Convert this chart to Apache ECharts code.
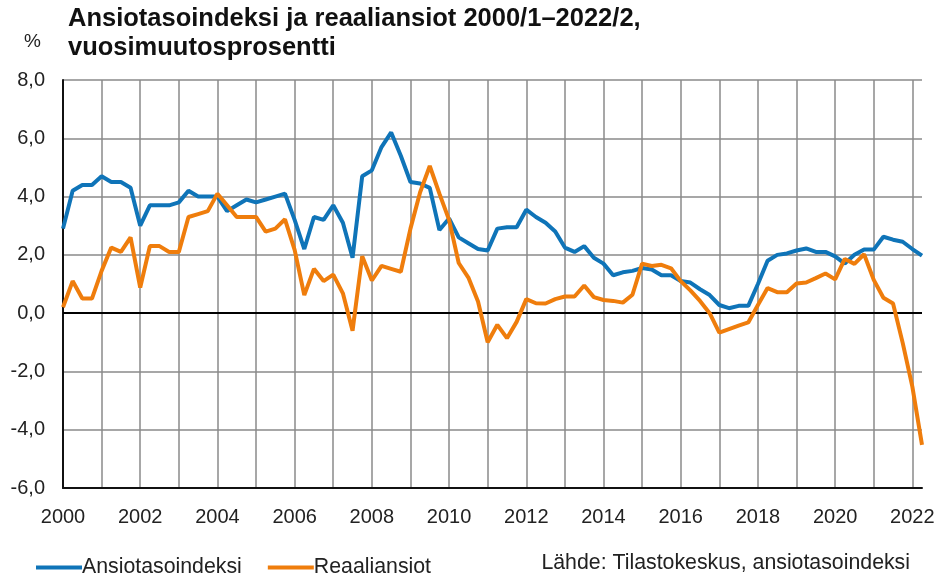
<!DOCTYPE html>
<html>
<head>
<meta charset="utf-8">
<script src="https://cdn.jsdelivr.net/npm/echarts@6/dist/echarts.min.js"></script>
<style>
  html, body { margin: 0; padding: 0; background: #fff; }
  #chart { width: 940px; height: 579px; }
</style>
</head>
<body>
<div id="chart"></div>
<script>
// Quarterly observations 2000/1 – 2022/2, year-on-year change in %
const years = [];
for (let y = 2000; y <= 2022; y++) years.push(y);
const quarters = [];
years.forEach(y => { for (let q = 1; q <= 4; q++) quarters.push(y + '/' + q); });
const categories = quarters.slice(0, 90);

const ansiotasoindeksi = [
  2.9, 4.2, 4.4, 4.4, 4.7, 4.5, 4.5, 4.3,
  3.0, 3.7, 3.7, 3.7, 3.8, 4.2, 4.0, 4.0,
  4.0, 3.5, 3.7, 3.9, 3.8, 3.9, 4.0, 4.1,
  3.2, 2.2, 3.3, 3.2, 3.7, 3.1, 1.9, 4.7,
  4.9, 5.7, 6.2, 5.4, 4.5, 4.45, 4.3, 2.85,
  3.25, 2.6, 2.4, 2.2, 2.15, 2.9, 2.95, 2.95,
  3.55, 3.3, 3.1, 2.8, 2.25, 2.1, 2.3, 1.9,
  1.7, 1.3, 1.4, 1.45, 1.55, 1.5, 1.3, 1.3,
  1.1, 1.05, 0.82, 0.62, 0.28, 0.17, 0.25, 0.25,
  1.0, 1.8, 2.0, 2.05, 2.15, 2.22, 2.1, 2.1,
  1.95, 1.7, 2.0, 2.18, 2.18, 2.62, 2.52, 2.45,
  2.2, 1.97
];

const reaaliansiot = [
  0.2, 1.1, 0.5, 0.5, 1.45, 2.25, 2.1, 2.6,
  0.88, 2.3, 2.3, 2.1, 2.1, 3.3, 3.4, 3.5,
  4.1, 3.7, 3.3, 3.3, 3.3, 2.8, 2.9, 3.22,
  2.17, 0.62, 1.52, 1.1, 1.32, 0.68, -0.6, 1.95,
  1.12, 1.62, 1.52, 1.42, 2.9, 4.15, 5.05, 4.1,
  3.2, 1.72, 1.22, 0.4, -1.0, -0.4, -0.86, -0.3,
  0.48, 0.34, 0.33, 0.48, 0.57, 0.57, 0.95, 0.55,
  0.45, 0.42, 0.36, 0.63, 1.7, 1.62, 1.66, 1.54,
  1.1, 0.78, 0.42, 0.0, -0.67, -0.55, -0.43, -0.32,
  0.28, 0.86, 0.72, 0.72, 1.02, 1.05, 1.2, 1.36,
  1.16, 1.86, 1.69, 2.02, 1.14, 0.53, 0.33, -1.02,
  -2.52, -4.52
];

const seriesNames = ['Ansiotasoindeksi', 'Reaaliansiot'];
const seriesColors = ['#0f74b8', '#ef7d0c'];
const titleLines = ['Ansiotasoindeksi ja reaaliansiot 2000/1–2022/2,', 'vuosimuutosprosentti'];
const unitLabel = '%';
const sourceText = 'Lähde: Tilastokeskus, ansiotasoindeksi';

const FONT = '"Liberation Sans", Arial, sans-serif';
const gridGray = '#8a8a8a';

const chart = echarts.init(document.getElementById('chart'), null, { renderer: 'canvas' });

chart.setOption({
  animation: false,
  backgroundColor: '#ffffff',
  textStyle: { fontFamily: FONT },
  grid: { left: 63, right: 18, top: 80, bottom: 91, containLabel: false },
  graphic: [
    {
      type: 'text', left: 68, top: 4,
      style: {
        text: titleLines.join('\n'),
        font: 'bold 25.5px ' + FONT,
        lineHeight: 29,
        fill: '#111'
      }
    },
    {
      type: 'text', left: 24, top: 32,
      style: { text: unitLabel, font: '19px ' + FONT, fill: '#222' }
    },
    {
      type: 'text', right: 30, top: 553,
      style: { text: sourceText, font: '21.3px ' + FONT, fill: '#222', align: 'right' }
    }
  ],
  legend: {
    left: 31, top: 552,
    icon: 'rect',
    itemWidth: 46, itemHeight: 4,
    itemGap: 26,
    textStyle: { fontSize: 21.3, color: '#222', fontFamily: FONT, padding: [0, 0, 0, -5] },
    data: seriesNames
  },
  xAxis: {
    type: 'category',
    data: categories,
    boundaryGap: false,
    axisLine: { onZero: false, lineStyle: { color: '#111', width: 2 } },
    axisTick: { show: false },
    axisLabel: {
      interval: 7,
      margin: 19,
      fontSize: 20,
      color: '#222',
      fontFamily: FONT,
      formatter: v => v.split('/')[0]
    },
    splitLine: { show: true, interval: 3, lineStyle: { color: gridGray, width: 1.5 } }
  },
  yAxis: {
    type: 'value',
    min: -6, max: 8, interval: 2,
    axisLine: { show: true, lineStyle: { color: '#111', width: 2 } },
    axisTick: { show: false },
    axisLabel: {
      margin: 18,
      fontSize: 20,
      color: '#222',
      fontFamily: FONT,
      formatter: v => v.toFixed(1).replace('.', ',')
    },
    splitLine: { show: true, lineStyle: { color: gridGray, width: 1.5 } }
  },
  series: [
    {
      name: seriesNames[0],
      type: 'line',
      data: ansiotasoindeksi,
      showSymbol: false,
      symbol: 'none',
      color: seriesColors[0],
      lineStyle: { width: 4, color: seriesColors[0] },
      z: 3,
      markLine: {
        silent: true,
        symbol: 'none',
        label: { show: false },
        lineStyle: { color: '#000', width: 2, type: 'solid' },
        data: [{ yAxis: 0 }],
        z: 1
      }
    },
    {
      name: seriesNames[1],
      type: 'line',
      data: reaaliansiot,
      showSymbol: false,
      symbol: 'none',
      color: seriesColors[1],
      lineStyle: { width: 4, color: seriesColors[1] },
      z: 4
    }
  ]
});
</script>
</body>
</html>
